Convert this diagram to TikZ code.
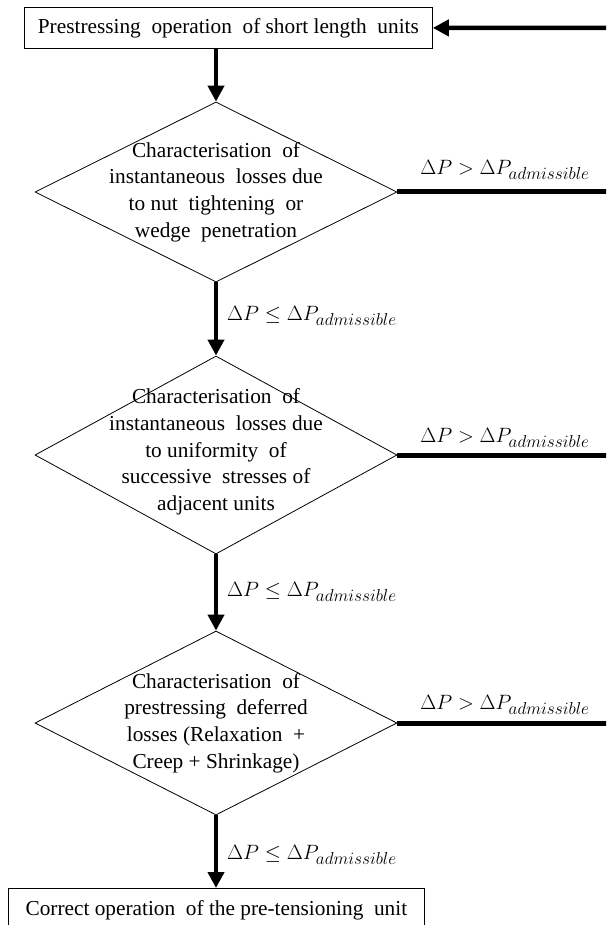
\documentclass[tikz,border=0pt]{standalone}
\usepackage{fontspec}
\setmainfont{Liberation Serif}
\DeclareMathSizes{20}{20}{16}{12}
\usetikzlibrary{shapes.geometric,arrows.meta}
\begin{document}
\begin{tikzpicture}[x=1pt,y=-1pt,
  box/.style={draw, line width=0.8pt, inner sep=0pt, anchor=north west,
    font=\fontsize{21.3}{26.7}\selectfont},
  dia/.style={draw, diamond, line width=0.8pt, minimum width=362pt, inner sep=0pt},
  txt/.style={font=\fontsize{21.3}{26.7}\selectfont, align=center, inner sep=0pt},
  flow/.style={line width=4.5pt, -{Triangle[length=16pt,width=16pt]}},
  bar/.style={line width=5pt},
  lab/.style={font=\fontsize{20}{22}\selectfont, inner sep=0pt}]
\clip (0,0) rectangle (606,925);
\fill[white] (0,0) rectangle (606,925);

% boxes
\node[box, minimum width=408pt, minimum height=41pt] (top) at (24,7)
  {Prestressing \ operation \ of short length \ units};
\node[box, minimum width=416pt, minimum height=44pt] (bot) at (8,888)
  {Correct operation \ of the pre-tensioning \ unit};

% diamonds
\node[dia, minimum height=180pt] (d1) at (216,192) {};
\node[dia, minimum height=198pt] (d2) at (216,455) {};
\node[dia, minimum height=184pt] (d3) at (216,723) {};

\node[txt] (t1) at (d1.center) {Characterisation \ of\\instantaneous \ losses due\\to nut \ tightening \ or\\wedge \ penetration};
\node[txt] (t2) at ([yshift=3pt]d2.center) {Characterisation \ of\\instantaneous \ losses due\\to uniformity \ of\\successive \ stresses of\\adjacent units};
\node[txt] (t3) at (d3.center) {Characterisation \ of\\prestressing \ deferred\\losses (Relaxation \ +\\Creep + Shrinkage)};

% feedback lines to the right edge
\coordinate (r0) at (612,28);
\coordinate (r1) at (612,192);
\coordinate (r2) at (612,455);
\coordinate (r3) at (612,723);
\draw[bar] (d1.east) -- (r1);
\draw[bar] (d2.east) -- (r2);
\draw[bar] (d3.east) -- (r3);
\draw[flow] (r0) -- (top.east);

\node[lab] (g1) at (505,170) {$\Delta P > \Delta P_{admissible}$};
\node[lab] (g2) at (505,438) {$\Delta P > \Delta P_{admissible}$};
\node[lab] (g3) at (505,705) {$\Delta P > \Delta P_{admissible}$};

% main flow
\draw[flow] (d1.north |- top.south) -- (d1.north);
\draw[flow] (d1.south) -- (d2.north);
\draw[flow] (d2.south) -- (d3.north);
\draw[flow] (d3.south) -- (d3.south |- bot.north);

\node[lab, anchor=west] (l1) at (227,316) {$\Delta P \leq \Delta P_{admissible}$};
\node[lab, anchor=west] (l2) at (227,592) {$\Delta P \leq \Delta P_{admissible}$};
\node[lab, anchor=west] (l3) at (227,855) {$\Delta P \leq \Delta P_{admissible}$};
\end{tikzpicture}
\end{document}
